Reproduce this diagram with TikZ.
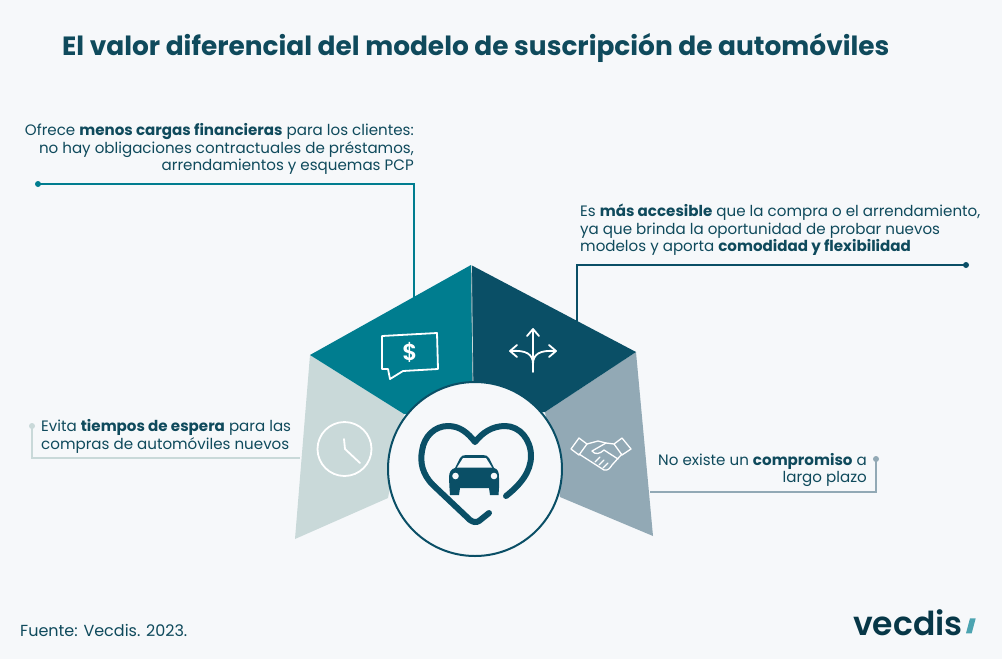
\documentclass[tikz,border=0pt]{standalone}
\usepackage{fontspec}
\setmainfont{Poppins}
\newfontfamily\logofont{Poppins SemiBold}
\usepackage{tikz}
\definecolor{bgpage}{HTML}{F6F8FA}
\definecolor{inktext}{HTML}{0F4A5C}
\definecolor{tealA}{HTML}{007D8F}
\definecolor{navyA}{HTML}{0A4F66}
\definecolor{paleA}{HTML}{C9D9D9}
\definecolor{slateA}{HTML}{92A9B5}
\tikzset{
  bodytext/.style={inner sep=0pt,text=inktext,font=\fontsize{15.1}{17.5}\selectfont},
  dotmark/.style={circle,inner sep=0pt,minimum size=6pt,fill=#1},
  leader/.style={line width=2pt,color=#1},
  iconline/.style={draw=white,line width=1.8pt,line cap=round,line join=round},
  handline/.style={iconline,line width=1.3pt},
}
\begin{document}
\begin{tikzpicture}[x=1pt,y=-1pt]
    \fill[bgpage] (0,0) rectangle (1002,659);
    \useasboundingbox (0,0) rectangle (1002,659);
    % title and texts
    \node[anchor=west,inner sep=0pt,text=inktext,font=\fontsize{26.4}{30}\selectfont\bfseries] (title) at (62,47.5) {El valor diferencial del modelo de suscripción de automóviles};
    \node[bodytext,anchor=east,align=right] (textA) at (414,149) {Ofrece \textbf{menos cargas financieras} para los clientes:\\no hay obligaciones contractuales de préstamos,\\arrendamientos y esquemas PCP};
    \node[bodytext,anchor=west,align=left] (textB) at (580,230) {Es \textbf{más accesible} que la compra o el arrendamiento,\\ya que brinda la oportunidad de probar nuevos\\modelos y aporta \textbf{comodidad y flexibilidad}};
    \node[bodytext,anchor=west,align=left] (textC) at (41,436.5) {Evita \textbf{tiempos de espera} para las\\compras de automóviles nuevos};
    \node[bodytext,anchor=east,align=right] (textD) at (867,470) {No existe un \textbf{compromiso} a\\largo plazo};
    \node[bodytext,anchor=west,font=\fontsize{16}{18}\selectfont] (source) at (20,630) {Fuente: Vecdis. 2023.};
    \node[anchor=west,inner sep=0pt,text=black!30!navyA,font=\fontsize{33}{33}\logofont] (logo) at (853,623) {vecdis};
    \fill[tealA!70!white] (970,618.3) -- (975.7,618.3) -- (971.7,633.3) -- (966,633.3) -- cycle;
    % leader lines
    \node[dotmark=tealA] (dotA) at (38,184) {};
    \node[dotmark=navyA] (dotB) at (966,265) {};
    \node[dotmark=paleA] (dotC) at (32,426) {};
    \node[dotmark=slateA] (dotD) at (876,459) {};
    \coordinate (endA) at (414,300);
    \coordinate (endB) at (577,325);
    \coordinate (endC) at (300,458);
    \coordinate (endD) at (650,492);
    \draw[leader=tealA] (dotA.center) -| (endA);
    \draw[leader=navyA] (dotB.center) -| (endB);
    \draw[leader=paleA] (dotC.center) |- (endC);
    \draw[leader=slateA] (dotD.center) |- (endD);
    % four panels
    \fill[paleA] (310,355) -- (404,414) -- (388,498) -- (295,539) -- cycle;
    \fill[slateA] (636,352) -- (545,412) -- (560,497) -- (653,536) -- cycle;
    \fill[tealA] (471,265) -- (310,355) -- (404,414) -- (473,420) -- cycle;
    \fill[navyA] (471,265) -- (636,352) -- (545,412) -- (473,420) -- cycle;
    \draw[paleA,line width=0.7pt] (471.5,265) -- (473,385);
    \node[circle,draw=navyA,line width=2pt,fill=bgpage,minimum size=174pt,inner sep=0pt] (hub) at (475,469) {};
    % heart
    \draw[navyA,line width=6pt,line cap=round,line join=round] (489,513) -- (479,521)
      .. controls (476,523) and (473,522) .. (470,520)
      -- (433,485)
      .. controls (422,474) and (420,462) .. (422,451)
      .. controls (424,436) and (435,426) .. (448,426)
      .. controls (460,426) and (468,433) .. (475,442)
      .. controls (482,433) and (492,426) .. (505,426)
      .. controls (520,426) and (531,440) .. (531,456)
      .. controls (531,472) and (520,485) .. (506,496);
    % car
    \fill[navyA] (449,478) .. controls (449,472) and (451,469) .. (455,468)
      -- (460,458) .. controls (461,456) and (463,455) .. (466,455) -- (483,455)
      .. controls (486,455) and (488,456) .. (489,458) -- (494,468)
      .. controls (498,469) and (499,472) .. (499,478) -- (499,488) -- (498.5,495) -- (490,495) -- (489,488)
      -- (460,488) -- (459,495) -- (450,495) -- (449.5,488) -- cycle;
    \fill[bgpage] (463,458) -- (486,458) -- (492,467.5) -- (457,467.5) -- cycle;
    \fill[bgpage] (455.5,476) circle (3.3pt) (494,476) circle (3.3pt);
    % bubble
    \draw[iconline] (382,336) -- (437,333) -- (438,369) -- (403,371) -- (390,379) -- (388,369) -- (382,369) -- cycle;
    \node[text=white,inner sep=0pt,font=\fontsize{23}{23}\logofont] (dollar) at (410,352) {\$};
    % arrows
    \draw[iconline] (533,372) -- (533,330);
    \draw[iconline] (527,336) -- (533,329) -- (539,336);
    \draw[iconline] (533,364) .. controls (533,354) and (526,350) .. (511,351);
    \draw[iconline] (517,345) -- (510,351) -- (517,357);
    \draw[iconline] (533,364) .. controls (533,354) and (540,350) .. (555,351);
    \draw[iconline] (549,345) -- (556,351) -- (549,357);
    % clock
    \draw[iconline] (344.5,449) circle (27pt);
    \draw[iconline] (344,439) -- (345,449) -- (360,463);
    % handshake
    \draw[handline] (571,449) -- (579,438) -- (587,444) -- (579,455) -- cycle;
    \draw[handline] (631,449) -- (622,438) -- (614,444) -- (622,455) -- cycle;
    \draw[handline] (579,454) -- (604,470) .. controls (608,471) and (610,468) .. (612,465) -- (622,454);
    \draw[handline] (587,444) -- (598,441) -- (606,443) -- (614,444);
    \draw[handline] (606,443) -- (592,451) .. controls (595,455) and (600,454) .. (604,450) -- (618,459);
    \draw[handline] (600,457) -- (595,462) (604,460) -- (599,465) (608,463) -- (603,468);
\end{tikzpicture}
\end{document}
